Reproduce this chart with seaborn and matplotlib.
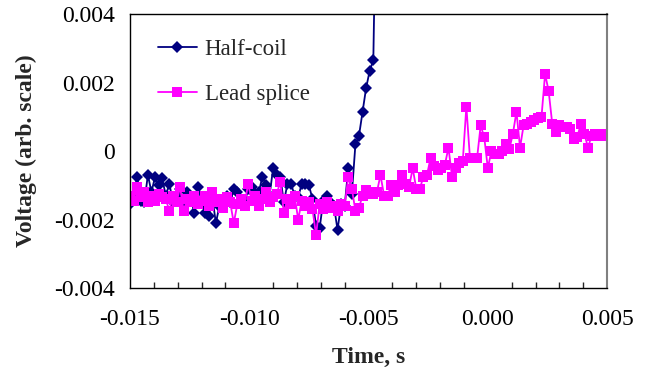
import matplotlib
matplotlib.use("Agg")
import matplotlib.pyplot as plt
import matplotlib.ticker as mticker
import numpy as np
import pandas as pd
import seaborn as sns

# sampling of the recorder (s)
t_start = -0.015
t_step = 0.00015

# Half-coil voltage, units of 1e-3 (arb.)
half_coil = [
    -1.55, -1.3, -0.75, -1.45, -1.5, -0.7, -1.2, -0.75, -1.0, -0.8,
    -1.3, -0.95, -1.5, -1.35, -1.1, -1.55, -1.2, -1.4, -1.8, -1.05,
    -1.45, -1.8, -1.9, -1.35, -2.1, -1.6, -1.45, -1.3, -1.5, -1.1,
    -1.2, -1.5, -1.55, -1.1, -1.05, -1.25, -1.2, -0.75, -1.0, -1.3,
    -0.5, -0.7, -0.75, -1.5, -0.95, -0.95, -1.3, -1.35, -0.95, -0.95,
    -1.0, -1.4, -2.2, -2.25, -1.45, -1.3, -1.5, -1.6, -2.3, -1.55,
    -1.6, -0.5, -1.25, 0.2, 0.45, 1.15, 1.85, 2.35, 2.65, 9.0,
]

# Lead splice voltage, units of 1e-3 (arb.)
lead_splice = [
    -1.3, -1.45, -1.05, -1.35, -1.2, -1.5, -1.3, -1.45, -1.25, -1.35,
    -1.4, -1.75, -1.3, -1.5, -1.05, -1.75, -1.4, -1.5, -1.3, -1.55,
    -1.45, -1.3, -1.6, -1.2, -1.5, -1.4, -1.65, -1.35, -1.5, -2.1,
    -1.55, -1.4, -1.6, -0.95, -1.45, -1.3, -1.6, -1.4, -1.2, -1.5,
    -1.35, -1.25, -0.9, -1.8, -1.4, -1.55, -1.3, -2.0, -1.45, -1.6,
    -1.5, -1.7, -2.45, -1.55, -1.7, -1.5, -1.65, -1.6, -1.75, -1.55,
    -1.6, -0.75, -1.1, -1.75, -1.65, -1.3, -1.15, -1.2, -1.25, -1.2,
    -0.7, -1.3, -1.3, -1.0, -1.2, -1.0, -0.7, -0.95, -1.05, -0.5,
    -1.1, -1.1, -0.75, -0.7, -0.2, -0.45, -0.55, -0.5, -0.4, 0.1,
    -0.75, -0.5, -0.35, -0.3, 1.3, -0.2, -0.2, -0.2, 0.75, 0.4,
    -0.5, 0.0, -0.1, -0.1, 0.0, 0.2, 0.05, 0.5, 1.15, 0.1,
    0.75, 0.8, 0.85, 0.9, 0.95, 1.0, 2.25, 1.75, 0.8, 0.55,
    0.75, 0.7, 0.7, 0.65, 0.35, 0.4, 0.8, 0.5, 0.1, 0.45,
    0.5, 0.45, 0.5, 0.45,
]

x_ticks = [-0.015, -0.010, -0.005, 0.000, 0.005]
y_ticks = [-0.004, -0.002, 0, 0.002, 0.004]
y_tick_labels = ["-0.004", "-0.002", "0", "0.002", "0.004"]

df_hc = pd.DataFrame({
    "time": t_start + t_step * np.arange(len(half_coil)),
    "volt": np.array(half_coil) * 1e-3,
})
df_ls = pd.DataFrame({
    "time": t_start + t_step * np.arange(len(lead_splice)),
    "volt": np.array(lead_splice) * 1e-3,
})

sns.set_style("white")
plt.rcParams["font.family"] = ["Liberation Serif", "DejaVu Serif"]

fig = plt.figure(figsize=(6.5, 3.79), dpi=100)
ax = fig.add_axes([0.2, 0.24, 0.734, 0.723])

sns.lineplot(data=df_hc, x="time", y="volt", ax=ax, color="#000080",
             marker="D", markersize=6.5, markeredgewidth=0, linewidth=1.3,
             estimator=None, label="Half-coil")
sns.lineplot(data=df_ls, x="time", y="volt", ax=ax, color="#FF00FF",
             marker="s", markersize=7.5, markeredgewidth=0, linewidth=1.3,
             estimator=None, label="Lead splice")

ax.set_xlim(-0.015, 0.005)
ax.set_ylim(-0.004, 0.004)
ax.set_xticks(x_ticks)
ax.xaxis.set_major_formatter(mticker.FormatStrFormatter("%.3f"))
ax.xaxis.set_minor_locator(mticker.MultipleLocator(0.001))
ax.set_yticks(y_ticks)
ax.set_yticklabels(y_tick_labels)

ax.tick_params(axis="both", which="major", direction="inout", length=8,
               width=1, labelsize=17, colors="black")
ax.tick_params(axis="x", which="minor", direction="in", length=4, width=1,
               bottom=True)
ax.tick_params(axis="x", pad=11)
ax.tick_params(axis="y", pad=7)

for side in ["left", "bottom", "top"]:
    ax.spines[side].set_color("black")
    ax.spines[side].set_linewidth(1)
ax.spines["right"].set_color("#808080")
ax.spines["right"].set_linewidth(1.5)

ax.set_xlabel("Time, s", fontsize=17, fontweight="bold")
ax.xaxis.set_label_coords(0.5, -0.215)
ax.set_ylabel("Voltage (arb. scale)", fontsize=17, fontweight="bold")
ax.yaxis.set_label_coords(-0.195, 0.5)

ax.legend(loc="upper left", bbox_to_anchor=(0.015, 0.985), frameon=False,
          fontsize=16.5, labelspacing=1.05, handlelength=1.7,
          handletextpad=0.35)

fig.savefig("out.png", dpi=100)
